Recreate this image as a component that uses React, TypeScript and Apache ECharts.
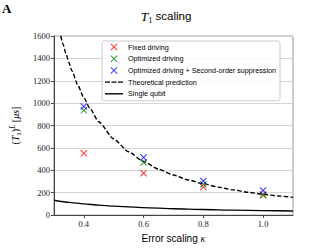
import React, { useEffect, useRef } from 'react';
import * as echarts from 'echarts';

// Measured kappa values
const kappaPts = [0.4, 0.6, 0.8, 1.0];
const fixedDriving = [553, 374, 250, 185];
const optimizedDriving = [936, 470, 275, 178];
const optimizedSecondOrder = [970, 515, 305, 220];

// Theoretical prediction curve
const theoryKappa = [0.323, 0.33, 0.34, 0.35, 0.36, 0.38, 0.4, 0.42, 0.45, 0.5, 0.55, 0.6, 0.65, 0.7, 0.75, 0.8, 0.85, 0.9, 0.95, 1.0, 1.05, 1.1];
const theoryValues = [1600, 1532, 1445, 1365, 1291, 1161, 1050, 955, 834, 680, 566, 479, 411, 358, 314, 279, 250, 225, 204, 186, 171, 158];

// Single qubit curve
const singleKappa = [0.3, 0.35, 0.4, 0.45, 0.5, 0.6, 0.7, 0.8, 0.9, 1.0, 1.1];
const singleValues = [133, 114, 100, 89, 80, 67, 57, 50, 44, 40, 36];

const xTicks = [0.4, 0.6, 0.8, 1.0];

const X_SHAPE = 'path://M0,1L1,0L5,4L9,0L10,1L6,5L10,9L9,10L5,6L1,10L0,9L4,5Z';
const DASH_ICON = 'path://M0,0h5v1.4h-5zM6.5,0h5v1.4h-5zM13,0h5v1.4h-5z';
const LINE_ICON = 'path://M0,0h18v1.4h-18z';
const SERIF = 'Liberation Serif';
const SANS = 'Liberation Sans';

export default function App() {
  const ref = useRef<HTMLDivElement>(null);
  useEffect(() => {
    if (!ref.current) return;
    const chart = echarts.init(ref.current, null, { renderer: 'svg' });
    const zip = (xs: number[], ys: number[]) => xs.map((x, i) => [x, ys[i]]);
    chart.setOption({
      animation: false,
      grid: {
        left: 45, right: 32, top: 36, bottom: 26.3,
        show: true, borderColor: '#999', borderWidth: 1, backgroundColor: 'transparent',
      },
      graphic: [
        {
          type: 'text', left: 2, top: 2,
          style: { text: 'A', font: `bold 13px "${SERIF}"`, fill: '#000' },
        },
        {
          type: 'text', x: 166, y: 16,
          style: {
            text: '{t|T}{s|1}{n| scaling}',
            align: 'center', verticalAlign: 'middle',
            rich: {
              t: { fontFamily: SERIF, fontStyle: 'italic', fontSize: 13.5, lineHeight: 16, verticalAlign: 'middle', fill: '#000' },
              s: { fontFamily: SERIF, fontSize: 8.5, lineHeight: 9, verticalAlign: 'bottom', fill: '#000' },
              n: { fontFamily: SANS, fontSize: 11.5, lineHeight: 16, verticalAlign: 'middle', fill: '#000' },
            },
          },
        },
      ],
      legend: {
        orient: 'vertical',
        left: 102, top: 41,
        padding: [2, 4, 3, 3],
        itemWidth: 18, itemHeight: 7, itemGap: 3.7,
        symbolKeepAspect: true,
        backgroundColor: 'rgba(255,255,255,0.85)',
        borderColor: '#cccccc', borderWidth: 1, borderRadius: 2,
        textStyle: { fontFamily: SANS, fontSize: 7.2, color: '#000', lineHeight: 8 },
        data: [
          { name: 'Fixed driving', icon: X_SHAPE },
          { name: 'Optimized driving', icon: X_SHAPE },
          { name: 'Optimized driving + Second-order suppression', icon: X_SHAPE },
          { name: 'Theoretical prediction', icon: DASH_ICON },
          { name: 'Single qubit', icon: LINE_ICON },
        ],
      },
      xAxis: {
        type: 'value', min: 0.3, max: 1.1,
        axisLine: { show: true, onZero: false, lineStyle: { color: '#444', width: 1 } },
        axisTick: { show: true, length: 3, customValues: xTicks, lineStyle: { color: '#444' } },
        axisLabel: {
          customValues: xTicks, formatter: (v: number) => v.toFixed(1),
          fontFamily: SERIF, fontSize: 8.5, color: '#222', margin: 4,
        },
        splitLine: { show: false },
        name: 'Error scaling {k|κ}',
        nameLocation: 'middle', nameGap: 13,
        nameTextStyle: {
          fontFamily: SANS, fontSize: 10, color: '#000',
          rich: { k: { fontFamily: SERIF, fontStyle: 'italic', fontSize: 10, color: '#000' } },
        },
      },
      yAxis: {
        type: 'value', min: 0, max: 1600, interval: 200,
        axisLine: { show: true, lineStyle: { color: '#444', width: 1 } },
        axisTick: { show: true, length: 3, lineStyle: { color: '#444' } },
        axisLabel: { fontFamily: SERIF, fontSize: 8.5, color: '#222', margin: 4, formatter: (v: number) => String(v) },
        splitLine: { show: true, lineStyle: { color: '#d4d4d4', width: 1 } },
        name: '({t|T}{s|1}){p|L} [{t|μs}]',
        nameLocation: 'middle', nameGap: 23, nameRotate: 90,
        nameTextStyle: {
          fontFamily: SERIF, fontSize: 10, color: '#000',
          rich: {
            t: { fontFamily: SERIF, fontStyle: 'italic', fontSize: 10, lineHeight: 14, verticalAlign: 'middle', color: '#000' },
            s: { fontFamily: SERIF, fontSize: 7, lineHeight: 7, verticalAlign: 'bottom', color: '#000' },
            p: { fontFamily: SERIF, fontStyle: 'italic', fontSize: 7.5, lineHeight: 7, verticalAlign: 'top', color: '#000' },
          },
        },
      },
      series: [
        {
          name: 'Theoretical prediction', type: 'line', showSymbol: false, symbol: 'none',
          smooth: 0.2, smoothMonotone: 'x',
          data: zip(theoryKappa, theoryValues),
          lineStyle: { color: '#000', width: 1.4, type: [4.5, 2.2] },
          itemStyle: { color: '#000' },
          z: 2,
        },
        {
          name: 'Single qubit', type: 'line', showSymbol: false, symbol: 'none',
          smooth: 0.2, smoothMonotone: 'x',
          data: zip(singleKappa, singleValues),
          lineStyle: { color: '#000', width: 1.4 },
          itemStyle: { color: '#000' },
          z: 2,
        },
        {
          name: 'Fixed driving', type: 'scatter', symbol: X_SHAPE, symbolSize: 7,
          data: zip(kappaPts, fixedDriving), itemStyle: { color: '#ff0000' }, z: 3,
        },
        {
          name: 'Optimized driving', type: 'scatter', symbol: X_SHAPE, symbolSize: 7,
          data: zip(kappaPts, optimizedDriving), itemStyle: { color: '#008000' }, z: 4,
        },
        {
          name: 'Optimized driving + Second-order suppression', type: 'scatter', symbol: X_SHAPE, symbolSize: 7,
          data: zip(kappaPts, optimizedSecondOrder), itemStyle: { color: '#0000ff' }, z: 5,
        },
      ],
    });
    return () => chart.dispose();
  }, []);
  return <div ref={ref} style={{ width: 325, height: 248, position: 'absolute', left: 0, top: 0 }} />;
}
